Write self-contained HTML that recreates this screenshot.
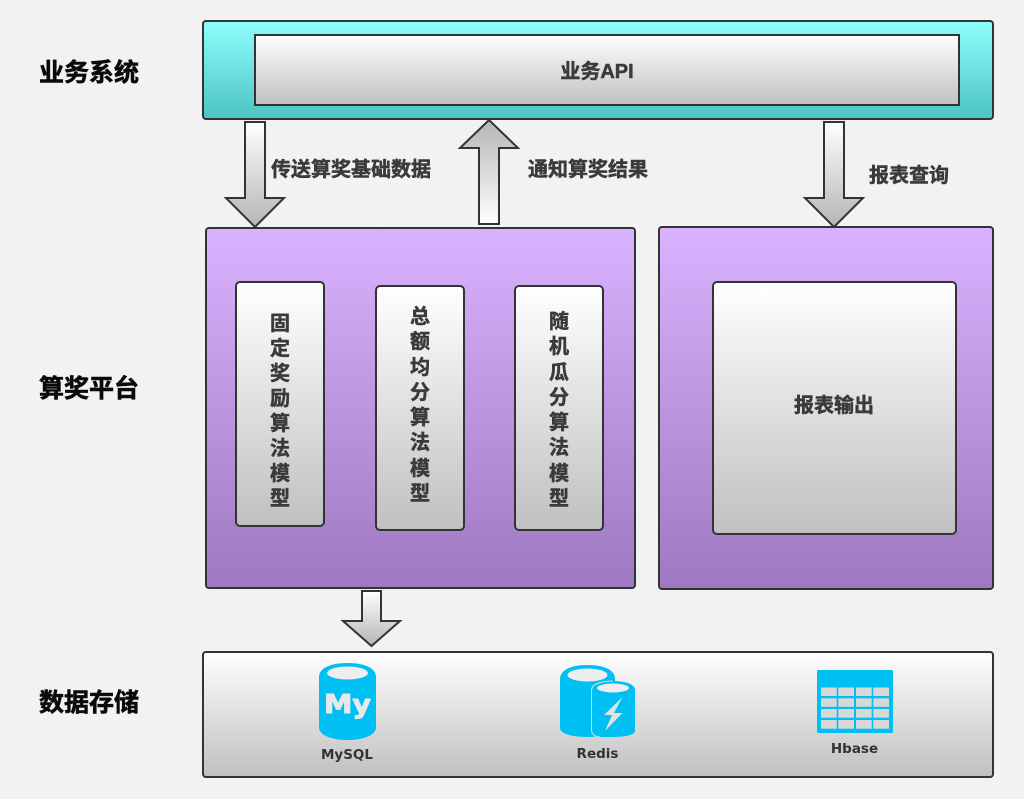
<!DOCTYPE html>
<html><head><meta charset="utf-8"><style>
html,body{margin:0;padding:0;background:#f2f2f2}
svg{display:block}
text{font-family:"Liberation Sans","Noto Sans CJK SC",sans-serif;font-weight:bold}
.l{font-size:25px;fill:#0a0a0a;stroke:#0a0a0a;stroke-width:.6}
.t{font-size:20px;fill:#3a3a3a;stroke:#3a3a3a;stroke-width:.5}
.s{font-family:"DejaVu Sans",sans-serif;font-size:13.5px;fill:#333}
</style></head><body>
<svg width="1024" height="799" viewBox="0 0 1024 799" xmlns="http://www.w3.org/2000/svg">
<defs>
<linearGradient id="c" x1="0" y1="0" x2="0" y2="1"><stop offset="0" stop-color="#8dfffd"/><stop offset="1" stop-color="#4dc3c3"/></linearGradient>
<linearGradient id="p" x1="0" y1="0" x2="0" y2="1"><stop offset="0" stop-color="#d9b3ff"/><stop offset="1" stop-color="#9e78c0"/></linearGradient>
<linearGradient id="g" x1="0" y1="0" x2="0" y2="1"><stop offset="0" stop-color="#ffffff"/><stop offset="1" stop-color="#c0c0c0"/></linearGradient>
<linearGradient id="d" x1="0" y1="0" x2="0" y2="1"><stop offset="0" stop-color="#ffffff"/><stop offset="1" stop-color="#b5b5b5"/></linearGradient>
<linearGradient id="u" x1="0" y1="1" x2="0" y2="0"><stop offset="0" stop-color="#ffffff"/><stop offset="1" stop-color="#b5b5b5"/></linearGradient>
</defs>
<rect width="1024" height="799" fill="#f2f2f2"/>
<g stroke="#333" stroke-width="2">
<rect x="203" y="21" width="790" height="98" rx="3" fill="url(#c)"/>
<rect x="255" y="35" width="704" height="70" fill="url(#g)"/>
<rect x="206" y="228" width="429" height="360" rx="3" fill="url(#p)"/>
<rect x="659" y="227" width="334" height="362" rx="3" fill="url(#p)"/>
<rect x="236" y="282" width="88" height="244" rx="4" fill="url(#g)"/>
<rect x="376" y="286" width="88" height="244" rx="4" fill="url(#g)"/>
<rect x="515" y="286" width="88" height="244" rx="4" fill="url(#g)"/>
<rect x="713" y="282" width="243" height="252" rx="4" fill="url(#g)"/>
<rect x="203" y="652" width="790" height="125" rx="3" fill="url(#g)"/>
<path d="M245 122H265V198H284L255 227L226 198H245Z" fill="url(#d)"/>
<path d="M479 224H499V148H518L489 120L460 148H479Z" fill="url(#u)"/>
<path d="M824 122H844V198H863L834 227L805 198H824Z" fill="url(#d)"/>
<path d="M362 591H381V621H400L371.500 646L343 621H362Z" fill="url(#d)"/>
</g>
<text class="l" x="39" y="81">业务系统</text>
<text class="l" x="39" y="397">算奖平台</text>
<text class="l" x="39" y="711">数据存储</text>
<text class="t" x="597" y="78" text-anchor="middle">业务API</text>
<text class="t" x="271" y="176">传送算奖基础数据</text>
<text class="t" x="528" y="176">通知算奖结果</text>
<text class="t" x="869" y="182">报表查询</text>
<text class="t" x="834" y="412" text-anchor="middle">报表输出</text>
<g text-anchor="middle">
<text class="t" x="280" y="330">固</text><text class="t" x="280" y="355">定</text><text class="t" x="280" y="380">奖</text><text class="t" x="280" y="405">励</text><text class="t" x="280" y="430">算</text><text class="t" x="280" y="455">法</text><text class="t" x="280" y="480">模</text><text class="t" x="280" y="505">型</text>
<text class="t" x="420" y="323">总</text><text class="t" x="420" y="348">额</text><text class="t" x="420" y="374">均</text><text class="t" x="420" y="399">分</text><text class="t" x="420" y="424">算</text><text class="t" x="420" y="449">法</text><text class="t" x="420" y="475">模</text><text class="t" x="420" y="500">型</text>
<text class="t" x="559" y="328">随</text><text class="t" x="559" y="353">机</text><text class="t" x="559" y="379">瓜</text><text class="t" x="559" y="404">分</text><text class="t" x="559" y="429">算</text><text class="t" x="559" y="454">法</text><text class="t" x="559" y="480">模</text><text class="t" x="559" y="505">型</text>
</g>
<!-- MySQL -->
<path d="M319 677C319 667 333 663 347.500 663C362 663 376 667 376 677V727C376 736 362 740 347.500 740C333 740 319 736 319 727Z" fill="#00bff3"/>
<ellipse cx="347.500" cy="673" rx="20.500" ry="6.500" fill="#eee"/>
<text x="347.500" y="713" text-anchor="middle" textLength="47" lengthAdjust="spacingAndGlyphs" style="font-family:'DejaVu Sans',sans-serif;font-size:26px;font-weight:bold;fill:#e8e8e8;stroke:#e8e8e8;stroke-width:1">My</text>
<text class="s" x="347" y="759" text-anchor="middle">MySQL</text>
<!-- Redis -->
<path d="M560 679C560 669 573 665 587.500 665C602 665 615 669 615 679V728C615 734 602 737 587.500 737C573 737 560 734 560 728Z" fill="#00bff3"/>
<ellipse cx="587.500" cy="675" rx="20" ry="6.500" fill="#eee"/>
<path d="M591 690C591 684 602 681 613 681C625 681 635 684 635 690V731C635 735 625 737 613 737H600C595 737 591 734 591 730Z" fill="#00bff3"/>
<path d="M591.500 690V730C591.500 734 595 737 600 737" fill="none" stroke="#dcdcdc" stroke-width="1"/>
<path d="M591.500 690C591.500 684 602 681 613 681" fill="none" stroke="#dcdcdc" stroke-width="1"/>
<ellipse cx="613" cy="688" rx="16" ry="4.500" fill="#eee"/>
<path d="M622.500 697L604 715H612L605 731L622.500 713H614Z" fill="#e2e2e2"/>
<text class="s" x="597.500" y="758" text-anchor="middle">Redis</text>
<!-- Hbase -->
<rect x="817" y="670" width="76" height="63" rx="1.500" fill="#00bff3"/>
<g fill="#d8d8d8">
<rect x="821" y="687.500" width="15.700" height="8.500"/><rect x="838.300" y="687.500" width="15.700" height="8.500"/><rect x="856" y="687.500" width="15.700" height="8.500"/><rect x="873.300" y="687.500" width="15.700" height="8.500"/>
<rect x="821" y="698.300" width="15.700" height="8.500"/><rect x="838.300" y="698.300" width="15.700" height="8.500"/><rect x="856" y="698.300" width="15.700" height="8.500"/><rect x="873.300" y="698.300" width="15.700" height="8.500"/>
<rect x="821" y="709" width="15.700" height="8.700"/><rect x="838.300" y="709" width="15.700" height="8.700"/><rect x="856" y="709" width="15.700" height="8.700"/><rect x="873.300" y="709" width="15.700" height="8.700"/>
<rect x="821" y="720" width="15.700" height="8.700"/><rect x="838.300" y="720" width="15.700" height="8.700"/><rect x="856" y="720" width="15.700" height="8.700"/><rect x="873.300" y="720" width="15.700" height="8.700"/>
</g>
<text class="s" x="854.500" y="753" text-anchor="middle">Hbase</text>
</svg>
</body></html>
